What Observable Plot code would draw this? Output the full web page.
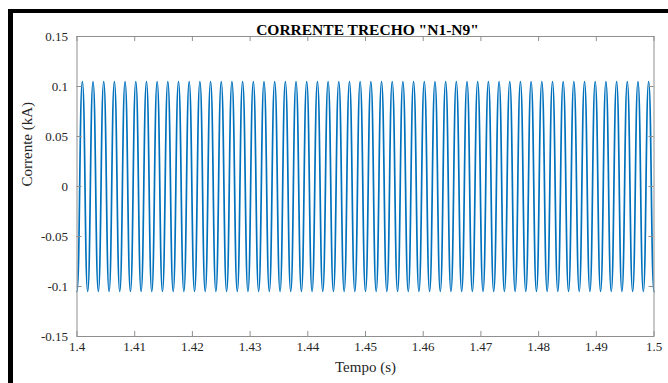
<!DOCTYPE html>
<html>
<head>
<meta charset="utf-8">
<script src="https://cdn.jsdelivr.net/npm/d3@7"></script>
<script src="https://cdn.jsdelivr.net/npm/@observablehq/plot@0.6"></script>
<style>
  html, body { margin: 0; padding: 0; background: #fff; }
  #wrap { position: relative; width: 668px; height: 383px; overflow: hidden; }
  #border { position: absolute; left: 8px; top: 9px; right: -10px; bottom: -10px;
            border-left: 5px solid #000; border-top: 4px solid #000; pointer-events: none; }
</style>
</head>
<body>
<div id="wrap"><div id="border"></div></div>
<script>
const title = "CORRENTE TRECHO \"N1-N9\"";
const xLabel = "Tempo (s)";
const yLabel = "Corrente (kA)";

const xTicks = [1.4, 1.41, 1.42, 1.43, 1.44, 1.45, 1.46, 1.47, 1.48, 1.49, 1.5];
const xTickLabels = ["1.4", "1.41", "1.42", "1.43", "1.44", "1.45", "1.46", "1.47", "1.48", "1.49", "1.5"];
const yTicks = [-0.15, -0.1, -0.05, 0, 0.05, 0.1, 0.15];
const yTickLabels = ["-0.15", "-0.1", "-0.05", "0", "0.05", "0.1", "0.15"];

// Peak (crest) times of the current (s)
const peakTimes = [
  1.40093, 1.40278, 1.40463, 1.40648, 1.40833, 1.41019, 1.41204, 1.41389, 1.41574,
  1.41759, 1.41944, 1.42130, 1.42315, 1.42500, 1.42685, 1.42870, 1.43056, 1.43241,
  1.43426, 1.43611, 1.43796, 1.43981, 1.44167, 1.44352, 1.44537, 1.44722, 1.44907,
  1.45093, 1.45278, 1.45463, 1.45648, 1.45833, 1.46019, 1.46204, 1.46389, 1.46574,
  1.46759, 1.46944, 1.47130, 1.47315, 1.47500, 1.47685, 1.47870, 1.48056, 1.48241,
  1.48426, 1.48611, 1.48796, 1.48981, 1.49167, 1.49352, 1.49537, 1.49722, 1.49907
];
// Trough times of the current (s)
const troughTimes = [
  1.40000, 1.40185, 1.40370, 1.40556, 1.40741, 1.40926, 1.41111, 1.41296, 1.41481,
  1.41667, 1.41852, 1.42037, 1.42222, 1.42407, 1.42593, 1.42778, 1.42963, 1.43148,
  1.43333, 1.43519, 1.43704, 1.43889, 1.44074, 1.44259, 1.44444, 1.44630, 1.44815,
  1.45000, 1.45185, 1.45370, 1.45556, 1.45741, 1.45926, 1.46111, 1.46296, 1.46481,
  1.46667, 1.46852, 1.47037, 1.47222, 1.47407, 1.47593, 1.47778, 1.47963, 1.48148,
  1.48333, 1.48519, 1.48704, 1.48889, 1.49074, 1.49259, 1.49444, 1.49630, 1.49815,
  1.50000
];
const peakValue = 0.105;     // kA
const troughValue = -0.105;  // kA

const series = peakTimes.map(t => ({t, v: peakValue}))
  .concat(troughTimes.map(t => ({t, v: troughValue})))
  .sort((a, b) => a.t - b.t);

const W = 668, H = 383;
const mL = 76.5, mR = 14.5, mT = 36, mB = 47;
const pw = W - mL - mR, ph = H - mT - mB;
const axisColor = "#8f8f8f";
const textColor = "#262626";
const font = "Liberation Serif, Times New Roman, serif";

const chart = Plot.plot({
  width: W,
  height: H,
  marginLeft: mL,
  marginRight: mR,
  marginTop: mT,
  marginBottom: mB,
  style: {fontFamily: font, fontSize: "13px", color: textColor, background: "transparent"},
  x: {domain: [1.4, 1.5], axis: null},
  y: {domain: [-0.15, 0.15], axis: null},
  marks: [
    Plot.line(series, {x: "t", y: "v", curve: "bump-x", stroke: "#0072BD", strokeWidth: 1.7}),
    Plot.frame({stroke: axisColor, strokeWidth: 1}),
    Plot.ruleX(xTicks, {x: d => d, insetTop: ph - 5, stroke: axisColor}),
    Plot.ruleX(xTicks, {x: d => d, insetBottom: ph - 5, stroke: axisColor}),
    Plot.ruleY(yTicks, {y: d => d, insetRight: pw - 5, stroke: axisColor}),
    Plot.ruleY(yTicks, {y: d => d, insetLeft: pw - 5, stroke: axisColor}),
    Plot.axisX(xTicks, {anchor: "bottom", tickSize: 0, tickPadding: 5, label: null,
      tickFormat: (d, i) => xTickLabels[i], fontSize: 13, fill: textColor}),
    Plot.axisY(yTicks, {anchor: "left", tickSize: 0, tickPadding: 9, label: null,
      tickFormat: (d, i) => yTickLabels[i], fontSize: 13, fill: textColor}),
    Plot.text([title], {frameAnchor: "top", dy: -12.5, dx: 2, text: d => d, fontWeight: "bold",
      fontSize: 15.5, fill: "#000"}),
    Plot.text([xLabel], {frameAnchor: "bottom", dy: 35, text: d => d, fontSize: 15, fill: textColor}),
    Plot.text([yLabel], {frameAnchor: "left", dx: -50, rotate: -90, text: d => d, fontSize: 15, fill: textColor})
  ]
});
document.getElementById("wrap").prepend(chart);
</script>
</body>
</html>
